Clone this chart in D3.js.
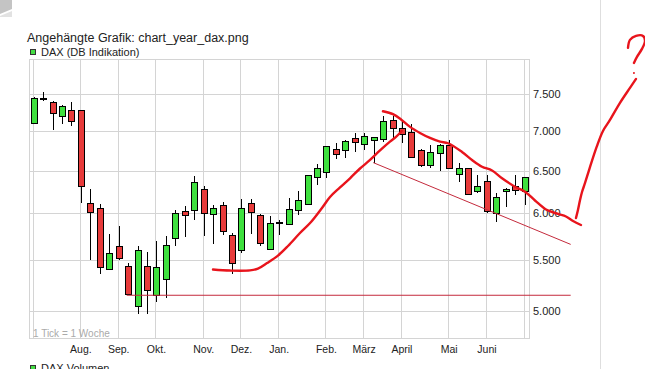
<!DOCTYPE html>
<html lang="de">
<head>
<meta charset="UTF-8">
<title>DAX Wochenchart</title>
<style>
  body { margin: 0; background: #fff; }
  svg { display: block; font-family: "Liberation Sans", Arial, sans-serif; }
  .grid line, .frame { stroke: #d4d4d4; stroke-width: 1; fill: none; shape-rendering: crispEdges; }
  .candle line { stroke: #000; stroke-width: 1; shape-rendering: crispEdges; }
  .candle rect { stroke: #000; stroke-width: 1; shape-rendering: crispEdges; }
  .ylab { font-size: 11px; fill: #222; }
  .xlab { font-size: 10.5px; fill: #222; }
  .pen { fill: none; stroke: #e8141c; stroke-width: 2.4; stroke-linecap: round; stroke-linejoin: round; }
  .rule { fill: none; stroke: #c42a3c; stroke-width: 1; }
</style>
<script src="https://d3js.org/d3.v7.min.js"></script>
</head>
<body>
<script>
// weekly DAX candles, late June 2011 .. late June 2012
const opens  = [7095, 7430, 7385, 7195, 7275, 7270, 6115, 6053, 5405, 5643, 5436, 5044, 5436, 5152, 5305, 5728, 6024, 6031, 6277, 5990, 6092, 5756, 5600, 6107, 5982, 5614, 5895, 5879, 6031, 6103, 6419, 6474, 6755, 6751, 6904, 6822, 6878, 6891, 7140, 7025, 6982, 6751, 6560, 6708, 6806, 6455, 6528, 6253, 6371, 6002, 6249, 6315, 6249];
const highs  = [7450, 7530, 7395, 7340, 7385, 7280, 6277, 6103, 5774, 5861, 5472, 5643, 5586, 5702, 5752, 6042, 6084, 6438, 6315, 6095, 6130, 5781, 6164, 6164, 5997, 5971, 5927, 6175, 6257, 6447, 6581, 6800, 6840, 6882, 6969, 6977, 6925, 7198, 7198, 7148, 7087, 6764, 6818, 6827, 6882, 6589, 6532, 6447, 6443, 6230, 6288, 6443, 6420];
const lows   = [7085, 7400, 7005, 7087, 7070, 6115, 5500, 5355, 5395, 5500, 5150, 4970, 4975, 5088, 5126, 5646, 5741, 5930, 5756, 5670, 5760, 5358, 5569, 5771, 5649, 5607, 5763, 5875, 5982, 6095, 6331, 6415, 6646, 6651, 6734, 6751, 6597, 6853, 6904, 6840, 6658, 6547, 6528, 6495, 6519, 6363, 6210, 6230, 6005, 5908, 6076, 6210, 6099];
const closes = [7440, 7432, 7235, 7330, 7130, 6310, 6013, 5425, 5565, 5517, 5158, 5604, 5197, 5425, 5653, 6002, 5975, 6359, 6002, 6058, 5803, 5466, 6058, 6013, 5670, 5890, 5898, 6046, 6149, 6435, 6528, 6793, 6701, 6866, 6853, 6930, 6908, 7127, 7025, 6951, 6663, 6560, 6721, 6806, 6523, 6528, 6218, 6312, 6019, 6183, 6277, 6265, 6419];

const yTicks = [5000, 5500, 6000, 6500, 7000, 7500];
const monthLabels = ["Aug.", "Sep.", "Okt.", "Nov.", "Dez.", "Jan.", "Feb.", "März", "April", "Mai", "Juni"];

// hand-drawn marks on the picture, [week index, DAX level]
const penUp = [[18.99, 5403], [20.79, 5393], [22.91, 5395], [23.75, 5413], [24.71, 5469], [25.87, 5546], [26.93, 5646], [28.20, 5785], [29.37, 5905], [30.53, 6061], [31.38, 6187], [32.44, 6298], [33.50, 6407], [34.56, 6525], [35.62, 6630], [36.68, 6749], [37.73, 6860], [38.37, 6921], [38.97, 6999]];
const penDown = [[36.99, 7261], [38.05, 7221], [38.90, 7151], [39.85, 7052], [40.91, 6973], [41.97, 6908], [43.03, 6860], [43.88, 6840], [45.36, 6730], [46.42, 6630], [47.48, 6547], [48.54, 6501], [49.60, 6407], [50.97, 6307], [52.03, 6249], [53.09, 6147], [54.26, 6044], [55.53, 5994], [56.37, 5966], [57.12, 5916], [57.96, 5872]];
const penSwoosh = [[57.43, 5949], [57.64, 6039], [57.86, 6152], [58.07, 6245], [58.39, 6351], [58.92, 6544], [59.62, 6793], [60.29, 6999], [61.03, 7144], [62.09, 7375], [63.15, 7585], [63.79, 7713]];
const penQuestion = [[62.94, 8173], [63.15, 8296], [63.79, 8358], [64.53, 8358], [64.74, 8281], [64.42, 8158], [63.89, 8037], [63.57, 7947]];
const penDot = [63.57, 7800];
const supportLine = [[9.85, 5150], [56.87, 5150]];
const channelLine = [[35.96, 6597], [56.87, 5663]];

const W = 645, H = 369;
const plot = { left: 29, right: 529, top: 59, bottom: 338 };

const weeks = d3.timeMonday.range(new Date(2011, 5, 27), new Date(2012, 5, 26));
const months = d3.timeMonth.range(new Date(2011, 7, 1), new Date(2012, 5, 2));
const monthIdx = months.map(m => d3.timeMonday.count(weeks[0], d3.timeMonday.floor(m)));

const x = d3.scaleLinear().domain([0, weeks.length - 1]).range([33.7, 524.7]);
const y = d3.scaleLog().domain([4755, 8005]).range([plot.bottom, plot.top]);

const de = d3.formatLocale({ decimal: ",", thousands: ".", grouping: [3], currency: ["", " €"] });
const fmt = de.format(",d");

const svg = d3.select("body").append("svg").attr("width", W).attr("height", H);

// page decoration around the chart
svg.append("polygon").attr("points", "0,0 12,0 12,9 0,14").attr("fill", "#c4c4c4");
svg.append("polygon").attr("points", "0,16 12,11 12,17 0,17").attr("fill", "#e2e2e2");
svg.append("line").attr("x1", 600.5).attr("x2", 600.5).attr("y1", 0).attr("y2", H)
  .attr("stroke", "#dedede").attr("shape-rendering", "crispEdges");

svg.append("text").attr("x", 27).attr("y", 42).attr("font-size", 12.5).attr("fill", "#222")
  .text("Angehängte Grafik: chart_year_dax.png");

function legend(yPos, label) {
  svg.append("rect").attr("x", 30.5).attr("y", yPos - 6.5).attr("width", 5).attr("height", 5)
    .attr("fill", "#44dd44").attr("stroke", "#333").attr("shape-rendering", "crispEdges");
  svg.append("text").attr("x", 41).attr("y", yPos).attr("font-size", 11).attr("fill", "#222").text(label);
}
legend(55.5, "DAX (DB Indikation)");
legend(372, "DAX Volumen");

// grid
const grid = svg.append("g").attr("class", "grid");
svg.append("rect").attr("class", "frame")
  .attr("x", plot.left + 0.5).attr("y", plot.top + 0.5)
  .attr("width", plot.right - plot.left).attr("height", plot.bottom - plot.top);

grid.selectAll("line.h").data(yTicks).join("line").attr("class", "h")
  .attr("x1", plot.left).attr("x2", plot.right)
  .attr("y1", d => Math.round(y(d)) + 0.5).attr("y2", d => Math.round(y(d)) + 0.5);

const vIdx = [0, ...monthIdx, weeks.length - 1];
grid.selectAll("line.v").data(vIdx).join("line").attr("class", "v")
  .attr("x1", d => Math.round(x(d)) - 0.5).attr("x2", d => Math.round(x(d)) - 0.5)
  .attr("y1", plot.top).attr("y2", plot.bottom);

svg.selectAll("text.ylab").data(yTicks).join("text").attr("class", "ylab")
  .attr("x", 533).attr("y", d => y(d) + 4).text(fmt);

svg.selectAll("text.xlab").data(monthIdx).join("text").attr("class", "xlab")
  .attr("x", d => x(d)).attr("y", 353).attr("text-anchor", "middle")
  .text((d, i) => monthLabels[i]);

svg.append("text").attr("x", 33).attr("y", 337).attr("font-size", 10).attr("fill", "#aaa")
  .text("1 Tick = 1 Woche");

// candles
const candle = svg.append("g").selectAll("g").data(weeks).join("g").attr("class", "candle");
candle.append("line")
  .attr("x1", (d, i) => Math.round(x(i)) + 0.5).attr("x2", (d, i) => Math.round(x(i)) + 0.5)
  .attr("y1", (d, i) => y(highs[i])).attr("y2", (d, i) => y(lows[i]));
candle.append("rect")
  .attr("x", (d, i) => Math.round(x(i)) - 2.5).attr("width", 6)
  .attr("y", (d, i) => y(Math.max(opens[i], closes[i])))
  .attr("height", (d, i) => Math.max(0.6, y(Math.min(opens[i], closes[i])) - y(Math.max(opens[i], closes[i]))))
  .attr("fill", (d, i) => closes[i] >= opens[i] ? "#3ee03e" : "#e83b3b");

// annotations
const straight = d3.line().x(d => x(d[0])).y(d => y(d[1]));
const smooth = d3.line().x(d => x(d[0])).y(d => y(d[1])).curve(d3.curveCatmullRom);

svg.append("path").attr("class", "rule").attr("d", straight(supportLine));
svg.append("path").attr("class", "rule").attr("d", straight(channelLine));
[penUp, penDown, penSwoosh].forEach(p => svg.append("path").attr("class", "pen").attr("d", smooth(p)));
svg.append("path").attr("class", "pen").attr("stroke-width", 2).attr("d", smooth(penQuestion));
svg.append("circle").attr("cx", x(penDot[0])).attr("cy", y(penDot[1])).attr("r", 1).attr("fill", "#e8141c");
</script>
</body>
</html>
